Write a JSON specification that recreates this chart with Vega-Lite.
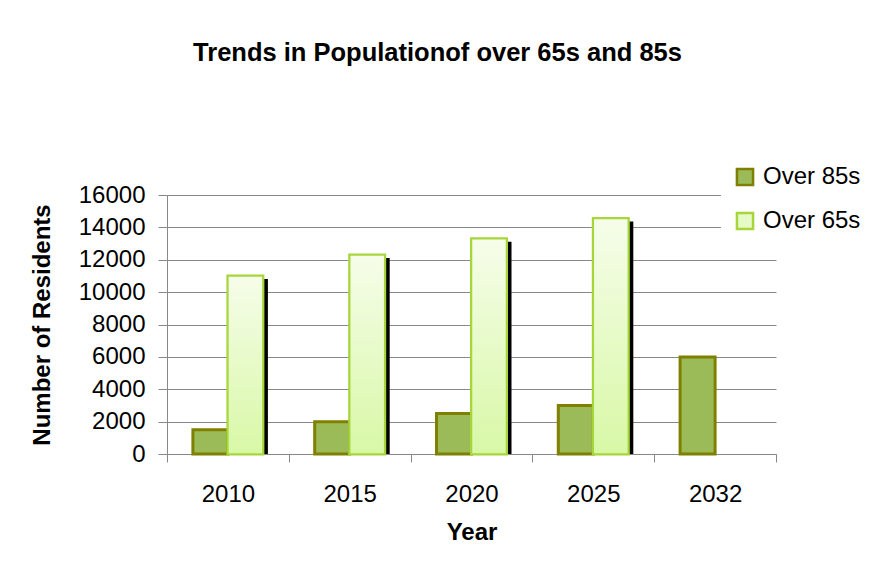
{
  "$schema": "https://vega.github.io/schema/vega-lite/v6.json",
  "width": 609,
  "height": 259,
  "autosize": {"type": "none"},
  "padding": {"left": 167, "top": 195, "right": 111, "bottom": 107},
  "background": "white",
  "config": {
    "view": {"stroke": null},
    "font": "Liberation Sans"
  },
  "title": {
    "text": "Trends in Populationof over 65s and 85s",
    "fontSize": 25.5,
    "fontWeight": "bold",
    "font": "Liberation Sans",
    "color": "black",
    "anchor": "middle",
    "frame": "group",
    "dx": -34,
    "offset": 87
  },
  "data": {
    "values": [
      {"year": "2010", "series": "Over 85s", "value": 1500},
      {"year": "2010", "series": "Over 65s", "value": 11000},
      {"year": "2015", "series": "Over 85s", "value": 2000},
      {"year": "2015", "series": "Over 65s", "value": 12300},
      {"year": "2020", "series": "Over 85s", "value": 2500},
      {"year": "2020", "series": "Over 65s", "value": 13300},
      {"year": "2025", "series": "Over 85s", "value": 3000},
      {"year": "2025", "series": "Over 65s", "value": 14550},
      {"year": "2032", "series": "Over 85s", "value": 6000}
    ]
  },
  "encoding": {
    "x": {
      "field": "year",
      "type": "nominal",
      "sort": null,
      "scale": {"paddingInner": 0, "paddingOuter": 0},
      "axis": {
        "title": "Year",
        "labelAngle": 0,
        "labelFontSize": 24,
        "labelColor": "black",
        "labelPadding": 20,
        "titleFontSize": 24,
        "titleFontWeight": "bold",
        "titleColor": "black",
        "titlePadding": 14,
        "tickBand": "extent",
        "tickSize": 8,
        "tickColor": "#888888",
        "domainColor": "#888888",
        "grid": false
      }
    },
    "y": {
      "field": "value",
      "type": "quantitative",
      "scale": {"domain": [0, 16000], "nice": false},
      "axis": {
        "title": "Number of Residents",
        "values": [0, 2000, 4000, 6000, 8000, 10000, 12000, 14000, 16000],
        "format": "d",
        "labelFontSize": 24,
        "labelColor": "black",
        "labelPadding": 13,
        "tickSize": 9,
        "tickColor": "#888888",
        "domainColor": "#888888",
        "gridColor": "#888888",
        "titleFontSize": 24,
        "titleFontWeight": "bold",
        "titleColor": "black",
        "titlePadding": 24
      }
    }
  },
  "layer": [
    {
      "transform": [{"filter": "datum.series === 'Over 65s'"}],
      "mark": {"type": "bar", "color": "black", "width": {"band": 0.2874}, "xOffset": 22.5, "yOffset": 3, "clip": true}
    },
    {
      "mark": {"type": "bar", "strokeWidth": 3},
      "encoding": {
        "xOffset": {
          "field": "series",
          "type": "nominal",
          "scale": {"domain": ["Over 85s", "Over 65s"], "paddingInner": 0, "paddingOuter": 0.74}
        },
        "color": {
          "field": "series",
          "type": "nominal",
          "scale": {"domain": ["Over 85s", "Over 65s"], "range": ["#9BBB59", "#E6FAC8"]},
          "legend": {
            "title": null,
            "orient": "none",
            "legendX": 554,
            "legendY": -42,
            "fillColor": "white",
            "padding": 12,
            "labelFontSize": 24,
            "labelColor": "black",
            "labelFont": "Liberation Sans",
            "symbolType": "square",
            "symbolSize": 260,
            "symbolStrokeWidth": 2.5,
            "rowPadding": 16,
            "labelOffset": 6
          }
        },
        "stroke": {
          "field": "series",
          "type": "nominal",
          "scale": {"domain": ["Over 85s", "Over 65s"], "range": ["#808000", "#A6D63A"]},
          "legend": null
        }
      }
    },
    {
      "transform": [{"filter": "datum.series === 'Over 65s'"}],
      "mark": {
        "type": "bar",
        "stroke": "#A6D63A",
        "strokeWidth": 1.5,
        "fill": {
          "gradient": "linear",
          "x1": 0, "y1": 0, "x2": 0, "y2": 1,
          "stops": [
            {"offset": 0, "color": "#F6FDEA"},
            {"offset": 1, "color": "#D8F8A6"}
          ]
        }
      },
      "encoding": {
        "xOffset": {
          "field": "series",
          "type": "nominal",
          "scale": {"domain": ["Over 85s", "Over 65s"], "paddingInner": 0, "paddingOuter": 0.74}
        }
      }
    }
  ]
}
